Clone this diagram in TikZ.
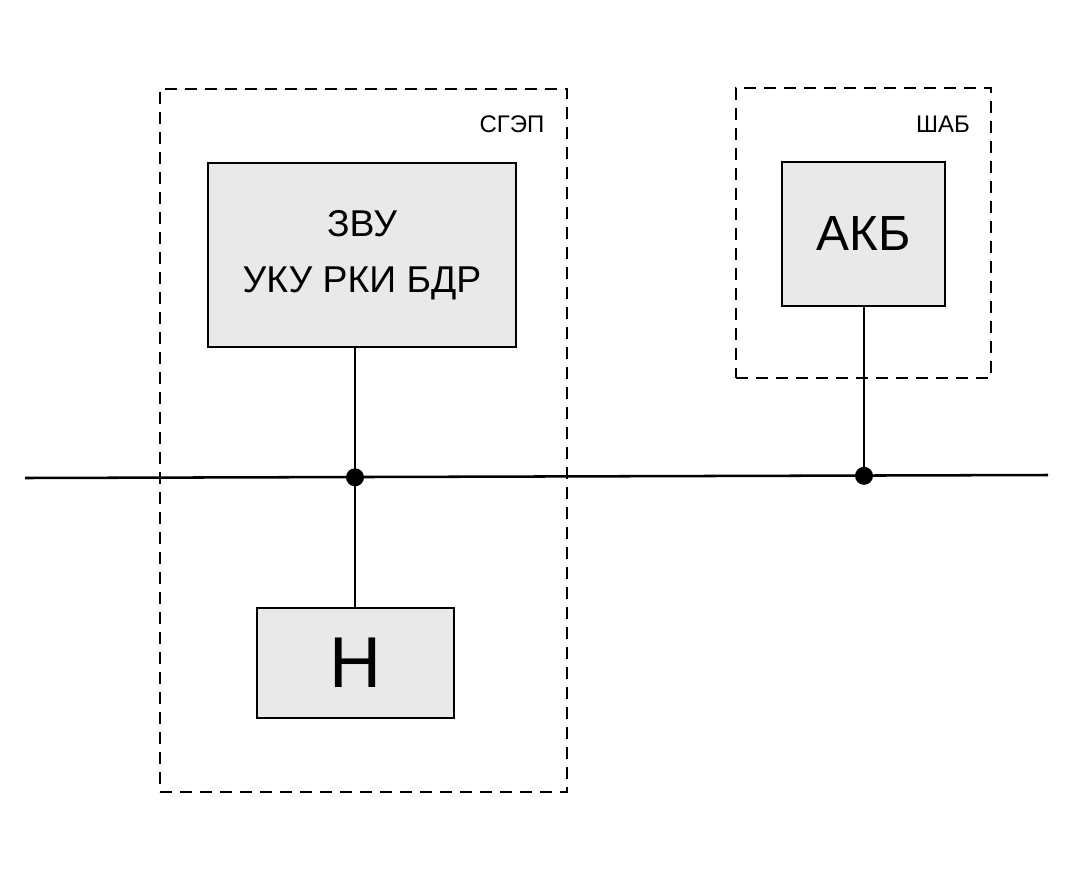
\documentclass[tikz,border=0pt]{standalone}
\usepackage{fontspec}
\setmainfont{Liberation Sans}
\begin{document}
\begin{tikzpicture}[x=0.75pt,y=-0.75pt,
  blk/.style={draw=black,line width=1.9pt,fill=boxgray,inner sep=0pt,align=center},
  grp/.style={draw=black,line width=1.7pt,dash pattern=on 9pt off 6pt,inner sep=0pt},
  grplabel/.style={font=\fontsize{18}{20}\selectfont},
  wire/.style={line width=1.9pt},
  junc/.style={circle,fill=black,inner sep=0pt,minimum size=13.5pt}]
\definecolor{boxgray}{HTML}{E8E9E8}
\useasboundingbox[fill=white] (0,0) rectangle (1077,882);
% groups
\node[grp,minimum width=305.25pt,minimum height=527.25pt] (sgep) at (363.5,440.5) {};
\node[grp,minimum width=191.25pt,minimum height=217.5pt] (shab) at (863.5,233) {};
\node[grplabel] (sgeplbl) at (512,124) {СГЭП};
\node[grplabel] (shablbl) at (943,124) {ШАБ};
% blocks
\node[blk,minimum width=231pt,minimum height=138pt,font=\fontsize{28}{42}\selectfont] (zvu) at (362,255) {ЗВУ\\УКУ РКИ БДР};
\node[blk,minimum width=147.75pt,minimum height=82.5pt,font=\fontsize{54}{60}\selectfont] (n) at (355.5,663) {Н};
\node[blk,minimum width=122.25pt,minimum height=108pt,font=\fontsize{37}{44}\selectfont] (akb) at (863.5,234) {АКБ};
% bus
\coordinate (busL) at (25,478);
\coordinate (busR) at (1048,475);
\draw[wire] (busL) -- (busR);
\node[junc] (j1) at (355,477.3) {};
\node[junc] (j2) at (864,475.8) {};
\draw[wire] (zvu.south -| j1) -- (j1.center) -- (n.north -| j1);
\draw[wire] (akb.south -| j2) -- (j2.center);
\end{tikzpicture}
\end{document}
